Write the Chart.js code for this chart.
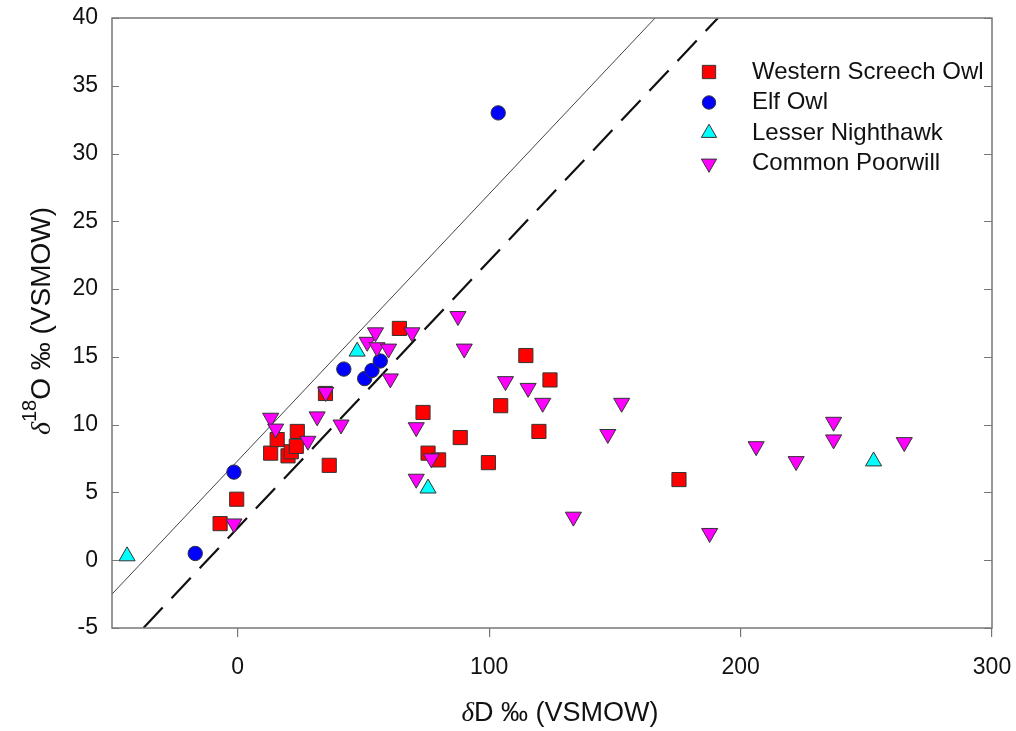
<!DOCTYPE html>
<html>
<head>
<meta charset="utf-8">
<script src="https://cdn.jsdelivr.net/npm/chart.js@4.4.1/dist/chart.umd.min.js"></script>
<style>
  body { margin: 0; background: #fff; }
</style>
</head>
<body>
<canvas id="chart" width="1016" height="731"></canvas>
<script>
// delta D vs delta 18O, per species
const screechOwlD = [-7, -0.4, 13.1, 15.7, 20.0, 21.3, 23.3, 23.7, 34.9, 36.4, 64.3, 73.7, 75.7, 79.9, 88.5, 99.7, 104.6, 114.6, 119.8, 124.2, 175.5];
const screechOwlO = [2.7, 4.5, 7.9, 8.9, 7.7, 8.0, 8.4, 9.5, 12.3, 7.0, 17.1, 10.9, 7.9, 7.4, 9.05, 7.2, 11.4, 15.1, 9.5, 13.3, 5.95];

const elfOwlD = [-16.9, -1.5, 42.2, 50.5, 53.4, 56.7, 103.6];
const elfOwlO = [0.5, 6.5, 14.1, 13.4, 14.0, 14.7, 33.0];

const nighthawkD = [-44, 47.5, 75.7, 252.9];
const nighthawkO = [0.3, 15.4, 5.3, 7.3];

const poorwillD = [-1.5, 13.1, 15.1, 27.9, 31.6, 35.0, 41.1, 51.5, 54.8, 55.4, 60.0, 60.7, 69.3, 71.0, 71.0, 77.0, 87.6, 90.1, 106.5, 115.5, 121.3, 133.5, 147.2, 152.7, 187.7, 206.2, 222.1, 237.0, 237.0, 265.1];
const poorwillO = [2.7, 10.5, 9.7, 8.8, 10.6, 12.4, 10.0, 16.1, 16.8, 15.7, 15.6, 13.4, 16.8, 9.8, 6.0, 7.5, 18.0, 15.6, 13.2, 12.7, 11.6, 3.2, 9.3, 11.6, 2.0, 8.4, 7.3, 10.2, 8.9, 8.7];

// reference lines (end points)
const solidLineD = [-50, 166];
const solidLineO = [-2.5, 40];
const dashedLineD = [-37.5, 191];
const dashedLineO = [-5, 40];

const xTickValues = [0, 100, 200, 300];
const yTickValues = [-5, 0, 5, 10, 15, 20, 25, 30, 35, 40];

const speciesNames = ['Western Screech Owl', 'Elf Owl', 'Lesser Nighthawk', 'Common Poorwill'];

const FONT = '"Liberation Sans", Arial, sans-serif';
const toPoints = (xs, ys) => xs.map((x, i) => ({ x: x, y: ys[i] }));

const species = [
  { style: 'rect', color: '#ff0000', radius: 10, rotation: 0 },
  { style: 'circle', color: '#0000ff', radius: 7.2, rotation: 0 },
  { style: 'triangle', color: '#00ffff', radius: 9.3, rotation: 0 },
  { style: 'triangle', color: '#ff00ff', radius: 9.3, rotation: 180 }
];

function drawMarker(ctx, s, x, y, r) {
  ctx.beginPath();
  if (s.style === 'circle') {
    ctx.arc(x, y, r, 0, Math.PI * 2);
  } else if (s.style === 'rect') {
    const h = Math.SQRT1_2 * r;
    ctx.rect(x - h, y - h, 2 * h, 2 * h);
  } else {
    let a = s.rotation * Math.PI / 180;
    ctx.moveTo(x + Math.sin(a) * r, y - Math.cos(a) * r);
    for (let k = 0; k < 2; k++) {
      a += 2 * Math.PI / 3;
      ctx.lineTo(x + Math.sin(a) * r, y - Math.cos(a) * r);
    }
    ctx.closePath();
  }
  ctx.fillStyle = s.color;
  ctx.fill();
  ctx.lineWidth = 1;
  ctx.strokeStyle = '#333';
  ctx.stroke();
}

const framePlugin = {
  id: 'frame',
  afterDraw(chart) {
    const ctx = chart.ctx;
    const a = chart.chartArea;
    const yScale = chart.scales.y;
    ctx.save();

    // box round the plot
    ctx.strokeStyle = '#777';
    ctx.lineWidth = 1.5;
    ctx.strokeRect(a.left, a.top, a.right - a.left, a.bottom - a.top);

    // inward ticks on both vertical sides
    ctx.lineWidth = 1.2;
    ctx.beginPath();
    yTickValues.forEach(v => {
      const py = Math.round(yScale.getPixelForValue(v)) + 0.5;
      ctx.moveTo(a.left, py); ctx.lineTo(a.left + 7, py);
      ctx.moveTo(a.right, py); ctx.lineTo(a.right - 8, py);
    });
    ctx.stroke();

    // legend
    ctx.font = '24px ' + FONT;
    ctx.textBaseline = 'middle';
    ctx.textAlign = 'left';
    species.forEach((s, i) => {
      const ly = 72 + i * 30.5;
      drawMarker(ctx, s, 709, ly, s.style === 'circle' ? 6.7 : (s.style === 'rect' ? 9.4 : 8.8));
      ctx.fillStyle = '#111';
      ctx.fillText(speciesNames[i], 752, ly);
    });

    // x axis title
    ctx.textBaseline = 'alphabetic';
    const xParts = [
      { t: 'δ', f: 'italic 27px "Liberation Serif", serif' },
      { t: 'D ‰ (VSMOW)', f: '27px ' + FONT }
    ];
    let w = 0;
    xParts.forEach(p => { ctx.font = p.f; w += ctx.measureText(p.t).width; });
    let cx = 560 - w / 2;
    xParts.forEach(p => {
      ctx.font = p.f;
      ctx.fillText(p.t, cx, 721);
      cx += ctx.measureText(p.t).width;
    });

    // y axis title, rotated, with superscript mass number
    const yParts = [
      { t: 'δ', f: 'italic 28px "Liberation Serif", serif', dy: 0 },
      { t: '18', f: '20px ' + FONT, dy: -14 },
      { t: 'O ‰ (VSMOW)', f: '28px ' + FONT, dy: 0 }
    ];
    ctx.translate(50, 321);
    ctx.rotate(-Math.PI / 2);
    w = 0;
    yParts.forEach(p => { ctx.font = p.f; w += ctx.measureText(p.t).width; });
    cx = -w / 2;
    yParts.forEach(p => {
      ctx.font = p.f;
      ctx.fillText(p.t, cx, p.dy);
      cx += ctx.measureText(p.t).width;
    });
    ctx.restore();
  }
};

const markerSets = [
  [screechOwlD, screechOwlO],
  [elfOwlD, elfOwlO],
  [nighthawkD, nighthawkO],
  [poorwillD, poorwillO]
];

const datasets = markerSets.map((xy, i) => ({
  label: speciesNames[i],
  data: toPoints(xy[0], xy[1]),
  showLine: false,
  pointStyle: species[i].style,
  pointRadius: species[i].radius,
  pointRotation: species[i].rotation,
  backgroundColor: species[i].color,
  borderColor: '#333',
  borderWidth: 1,
  order: [4, 3, 2, 1][i]
}));

datasets.push({
  label: 'solid',
  data: toPoints(solidLineD, solidLineO),
  showLine: true,
  pointRadius: 0,
  borderColor: '#444',
  borderWidth: 1,
  order: 6
});
datasets.push({
  label: 'dashed',
  data: toPoints(dashedLineD, dashedLineO),
  showLine: true,
  pointRadius: 0,
  borderColor: '#111',
  borderWidth: 2.2,
  borderDash: [28, 13],
  order: 5
});

new Chart(document.getElementById('chart'), {
  type: 'scatter',
  data: { datasets: datasets },
  options: {
    responsive: false,
    animation: false,
    layout: { padding: { top: 18, right: 24, left: 0, bottom: 0 } },
    plugins: {
      legend: { display: false },
      tooltip: { enabled: false }
    },
    scales: {
      x: {
        type: 'linear',
        min: -50,
        max: 300,
        afterBuildTicks: s => { s.ticks = xTickValues.map(v => ({ value: v })); },
        afterFit: s => { s.height = 103; s.paddingLeft = 0; s.paddingRight = 0; },
        border: { display: false },
        grid: { drawOnChartArea: false, drawTicks: true, tickLength: 9, color: '#777', lineWidth: 1.2 },
        ticks: { padding: 17, color: '#111', font: { family: FONT, size: 23 } }
      },
      y: {
        type: 'linear',
        min: -5,
        max: 40,
        afterBuildTicks: s => { s.ticks = yTickValues.map(v => ({ value: v })); },
        afterFit: s => { s.width = 112; s.paddingTop = 0; s.paddingBottom = 0; },
        border: { display: false },
        grid: { display: false, drawTicks: false },
        ticks: { padding: 14, color: '#111', font: { family: FONT, size: 23 } }
      }
    }
  },
  plugins: [framePlugin]
});
</script>
</body>
</html>
